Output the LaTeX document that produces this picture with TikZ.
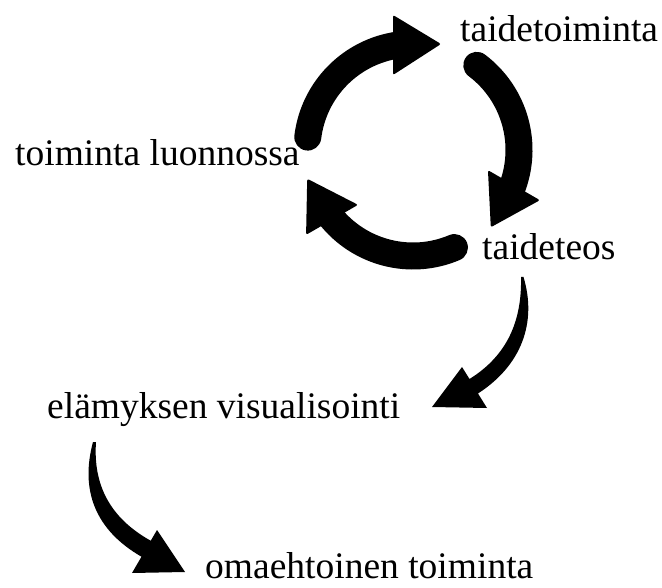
\documentclass[tikz,border=0pt]{standalone}
\usepackage{fontspec}
\setmainfont{Liberation Serif}
\begin{document}
\begin{tikzpicture}[x=1pt,y=-1pt,
  lbl/.style={anchor=base west,inner sep=0pt,font=\fontsize{37.5}{40}\selectfont},
  cyc/.style={line width=27pt,line cap=round},
  headfill/.style={fill=black,rounded corners=2pt}]
\useasboundingbox (0,0) rectangle (662,588);
\node[lbl] (t1) at (460,42) {taidetoiminta};
\node[lbl] (t2) at (482,260) {taideteos};
\node[lbl] (t3) at (15,166) {toiminta luonnossa};
\node[lbl] (t4) at (47,418) {elämyksen visualisointi};
\node[lbl] (t5) at (205,578) {omaehtoinen toiminta};
\coordinate (c) at (413,150);
\foreach \r in {0,120,240}{
  \begin{scope}[shift={(c)},rotate=-\r]
    \draw[cyc] (187:106) arc[start angle=187,end angle=262,radius=106];
    \fill[headfill] (-20,-135) -- (28,-106) -- (-20,-75) -- cycle;
  \end{scope}
}
% taideteos -> elamyksen visualisointi
\fill (523.5,277) .. controls (537,322) and (522,365) .. (478,393.5)
  -- (487,408) -- (432,407) -- (462,367) -- (469.5,379)
  .. controls (508,355) and (522,320) .. (521,277) -- cycle;
% elamyksen visualisointi -> omaehtoinen toiminta
\fill (93,442) .. controls (80,490) and (95,530) .. (141.5,556.7)
  -- (132,573) -- (185,572) -- (157,530) -- (150.75,540.75)
  .. controls (110,518) and (93,485) .. (96,442) -- cycle;
\end{tikzpicture}
\end{document}
